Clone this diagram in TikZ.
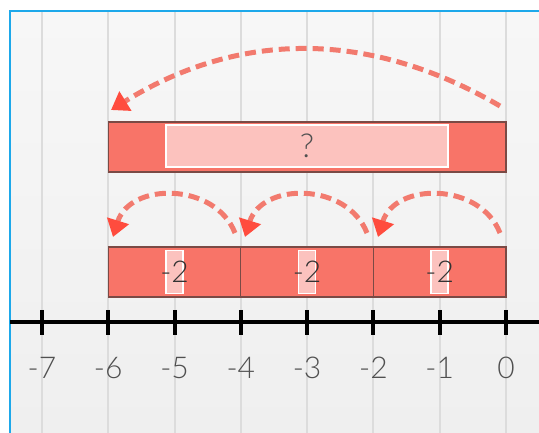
\documentclass[tikz,border=0pt]{standalone}
\usepackage{fontspec}
\setmainfont{Lato}[UprightFont=* Light]
\usetikzlibrary{arrows.meta}
\definecolor{bgtop}{HTML}{F7F7F7}
\definecolor{bgbot}{HTML}{EFEFEF}
\definecolor{framec}{HTML}{1DA8EA}
\definecolor{gridc}{HTML}{DCDCDC}
\definecolor{barfill}{HTML}{F87468}
\definecolor{barline}{HTML}{7A4A45}
\definecolor{chipfill}{HTML}{FCC2BE}
\definecolor{arcc}{HTML}{F27A6E}
\definecolor{tipc}{HTML}{FF4C3E}
\definecolor{labc}{HTML}{505050}
\tikzset{
  bar/.style={rectangle, draw=barline, line width=1.3pt, fill=barfill, inner sep=0pt},
  chip/.style={rectangle, draw=white, line width=1.6pt, fill=chipfill, inner sep=0pt,
    font=\fontsize{30}{34}\selectfont, text=black!80},
  chiptext/.style={font=\fontsize{30}{34}\selectfont, text=black!80, inner sep=0pt},
  jump/.style={draw=arcc, line width=5pt, dash pattern=on 11pt off 6pt,
    -{Triangle[width=22pt,length=17pt,fill=tipc,color=tipc]}},
  tick/.style={line width=4pt, black},
  lab/.style={font=\fontsize{30}{34}\selectfont, text=labc, inner sep=0pt}
}
\begin{document}
\begin{tikzpicture}[x=1pt,y=-1pt]
\useasboundingbox (0,0) rectangle (539,433);
\fill[white] (0,0) rectangle (539,433);
\shade[top color=bgtop,bottom color=bgbot] (10,11) rectangle (539,433);
% grid
\foreach \n in {-7,...,0}{
  \draw[gridc, line width=2pt] ({506+66.3*\n},12) -- ({506+66.3*\n},433);
}
\draw[framec, line width=2pt] (10,433) -- (10,11) -- (539,11);
% number line
\draw[line width=4pt, black] (10,322) -- (539,322);
\foreach \n in {-7,...,0}{
  \draw[tick] ({506+66.3*\n},310) -- ({506+66.3*\n},335);
  \node[lab] (l\n) at ({506+66.3*\n},368) {\n};
}
% bottom bars
\node[bar, minimum width=132.6pt, minimum height=50pt] (b1) at (174.5,272) {};
\node[bar, minimum width=132.6pt, minimum height=50pt] (b2) at (307.1,272) {};
\node[bar, minimum width=132.6pt, minimum height=50pt] (b3) at (439.7,272) {};
\node[chip, minimum width=17pt, minimum height=43pt] (c1) at (b1) {};
\node[chip, minimum width=17pt, minimum height=43pt] (c2) at (b2) {};
\node[chip, minimum width=17pt, minimum height=43pt] (c3) at (b3) {};
\node[chiptext] (n1) at (c1) {-2};
\node[chiptext] (n2) at (c2) {-2};
\node[chiptext] (n3) at (c3) {-2};
% top bar
\node[bar, minimum width=397.8pt, minimum height=50pt] (t) at (307.1,147) {};
\node[chip, minimum width=282pt, minimum height=42pt, text=labc] (q) at (307,146) {\fontsize{33}{36}\selectfont ?};
% jumps
\coordinate (s3) at (500,233); \coordinate (e3) at (378,237);
\coordinate (s2) at (367,233); \coordinate (e2) at (245,237);
\coordinate (s1) at (235,233); \coordinate (e1) at (113,237);
\draw[jump] (s3) .. controls (480,182) and (395,182) .. (e3);
\draw[jump] (s2) .. controls (347,182) and (262,182) .. (e2);
\draw[jump] (s1) .. controls (215,182) and (130,182) .. (e1);
\coordinate (sT) at (500,106); \coordinate (eT) at (111,110);
\draw[jump] (sT) .. controls (370,30) and (240,30) .. (eT);
\end{tikzpicture}
\end{document}
